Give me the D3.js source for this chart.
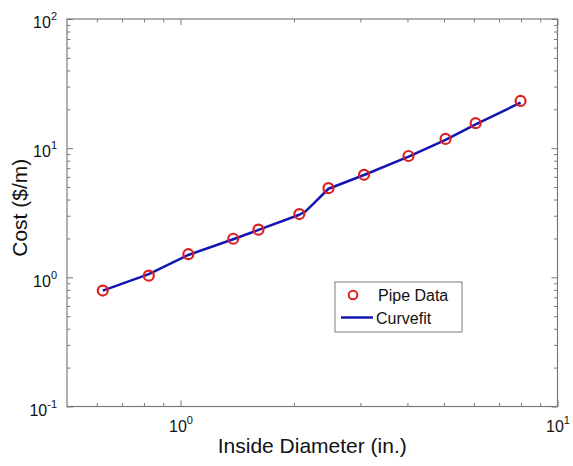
<!DOCTYPE html>
<html>
<head>
<meta charset="utf-8">
<script src="https://cdn.jsdelivr.net/npm/d3@7"></script>
<style>
  body { margin: 0; background: #fff; }
  text { font-family: "Liberation Sans", Arial, sans-serif; fill: #111; }
</style>
</head>
<body>
<svg></svg>
<script>
// pipe data (inside diameter in., cost $/m)
const diameters = [0.622, 0.824, 1.049, 1.380, 1.610, 2.067, 2.469, 3.068, 4.026, 5.047, 6.065, 7.981];
const costs = [0.79, 1.03, 1.51, 1.99, 2.34, 3.09, 4.90, 6.22, 8.70, 11.8, 15.6, 23.2];

// curvefit line
const fitX = [0.622, 0.824, 1.049, 1.380, 1.610, 2.067, 2.15, 2.25, 2.469, 3.068, 4.026, 5.047, 6.065, 7.981];
const fitY = [0.79, 1.06, 1.49, 1.97, 2.33, 3.05, 3.25, 3.7, 4.85, 6.2, 8.6, 11.6, 15.3, 22.5];

const xMajor = [1, 10];
const yMajor = [0.1, 1, 10, 100];
const xMinor = [0.6, 0.7, 0.8, 0.9, 2, 3, 4, 5, 6, 7, 8, 9];
const yMinor = [0.2, 0.3, 0.4, 0.5, 0.6, 0.7, 0.8, 0.9, 2, 3, 4, 5, 6, 7, 8, 9, 20, 30, 40, 50, 60, 70, 80, 90];

const Width = 573, Height = 466;
const box = { left: 67, right: 557.5, top: 19, bottom: 406.5 };
const axisColor = '#7a7a7a';

const svg = d3.select('svg')
  .attr('width', Width)
  .attr('height', Height);

const xScale = d3.scaleLog().domain([0.5, 10]).range([box.left, box.right]);
const yScale = d3.scaleLog().domain([0.1, 100]).range([box.bottom, box.top]);

// superscript labels like 10^2
function powLabel(sel, d) {
  const e = Math.round(Math.log10(d));
  sel.text(null);
  sel.append('tspan').text('10');
  sel.append('tspan').attr('dy', -8).attr('font-size', 11).text(e);
}

function styleAxis(g) {
  g.select('.domain').remove();
  g.selectAll('.tick line').attr('stroke', axisColor);
}

// frame
svg.append('rect')
  .attr('x', box.left).attr('y', box.top)
  .attr('width', box.right - box.left).attr('height', box.bottom - box.top)
  .attr('fill', 'none').attr('stroke', axisColor).attr('stroke-width', 1.2);

// Bottom axis
svg.append('g')
  .attr('transform', `translate(0, ${box.bottom})`)
  .call(d3.axisBottom(xScale).tickValues(xMajor).tickSize(-6).tickPadding(14))
  .call(styleAxis)
  .call(g => g.selectAll('.tick text')
    .attr('font-size', 16).attr('fill', '#111')
    .each(function(d) { powLabel(d3.select(this), d); }));
svg.append('g')
  .attr('transform', `translate(0, ${box.bottom})`)
  .call(d3.axisBottom(xScale).tickValues(xMinor).tickSize(-3.5).tickFormat(''))
  .call(styleAxis);

// Top axis
svg.append('g')
  .attr('transform', `translate(0, ${box.top})`)
  .call(d3.axisTop(xScale).tickValues(xMajor).tickSize(-6).tickFormat(''))
  .call(styleAxis);
svg.append('g')
  .attr('transform', `translate(0, ${box.top})`)
  .call(d3.axisTop(xScale).tickValues(xMinor).tickSize(-3.5).tickFormat(''))
  .call(styleAxis);

// Left axis
svg.append('g')
  .attr('transform', `translate(${box.left}, 0)`)
  .call(d3.axisLeft(yScale).tickValues(yMajor).tickSize(-6).tickPadding(10))
  .call(styleAxis)
  .call(g => g.selectAll('.tick text')
    .attr('font-size', 16).attr('fill', '#111').attr('dy', '0.55em')
    .each(function(d) { powLabel(d3.select(this), d); }));
svg.append('g')
  .attr('transform', `translate(${box.left}, 0)`)
  .call(d3.axisLeft(yScale).tickValues(yMinor).tickSize(-3.5).tickFormat(''))
  .call(styleAxis);

// Right axis
svg.append('g')
  .attr('transform', `translate(${box.right}, 0)`)
  .call(d3.axisRight(yScale).tickValues(yMajor).tickSize(-6).tickFormat(''))
  .call(styleAxis);
svg.append('g')
  .attr('transform', `translate(${box.right}, 0)`)
  .call(d3.axisRight(yScale).tickValues(yMinor).tickSize(-3.5).tickFormat(''))
  .call(styleAxis);

//Curvefit line
const line = d3.line()
  .x((d, i) => xScale(fitX[i]))
  .y(d => yScale(d));

svg.append('path')
  .datum(fitY)
  .attr('d', line)
  .attr('fill', 'none')
  .attr('stroke', '#1414b4')
  .attr('stroke-width', 2.5)
  .attr('stroke-linejoin', 'round');

//Pipe data circles
svg.selectAll('.pt')
  .data(diameters)
  .enter()
  .append('circle')
  .classed('pt', true)
  .attr('cx', d => xScale(d))
  .attr('cy', (d, i) => yScale(costs[i]))
  .attr('r', 5)
  .attr('fill', 'none')
  .attr('stroke', '#dc2020')
  .attr('stroke-width', 2.2);

// Axis titles
svg.append('text')
  .attr('x', (box.left + box.right) / 2)
  .attr('y', 453)
  .attr('text-anchor', 'middle')
  .attr('font-size', 21)
  .text('Inside Diameter (in.)');

svg.append('text')
  .attr('transform', `translate(27, ${(box.top + box.bottom) / 2 - 5}) rotate(-90)`)
  .attr('text-anchor', 'middle')
  .attr('font-size', 21)
  .text('Cost ($/m)');

// Legend
const legend = svg.append('g');
legend.append('rect')
  .attr('x', 335).attr('y', 282)
  .attr('width', 127).attr('height', 50)
  .attr('fill', '#fff').attr('stroke', axisColor);
legend.append('circle')
  .attr('cx', 353).attr('cy', 295).attr('r', 4.3)
  .attr('fill', 'none').attr('stroke', '#dc2020').attr('stroke-width', 2);
legend.append('text')
  .attr('x', 378).attr('y', 300.5)
  .attr('font-size', 16)
  .text('Pipe Data');
legend.append('line')
  .attr('x1', 341).attr('x2', 373).attr('y1', 317.5).attr('y2', 317.5)
  .attr('stroke', '#1414b4').attr('stroke-width', 2.5);
legend.append('text')
  .attr('x', 376).attr('y', 323.5)
  .attr('font-size', 16)
  .text('Curvefit');
</script>
</body>
</html>
